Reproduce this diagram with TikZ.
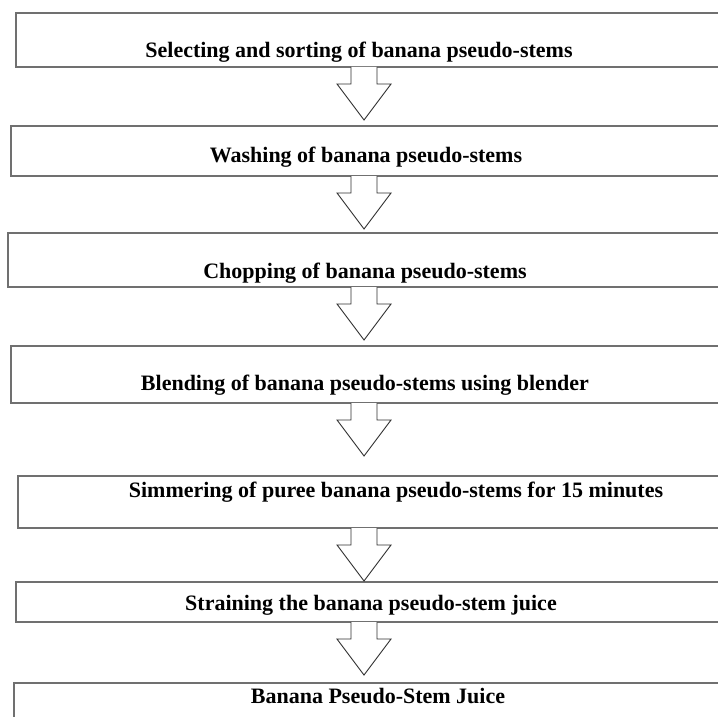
\documentclass[tikz,border=0pt]{standalone}
\usepackage{fontspec}
\setmainfont{Liberation Serif}
\usetikzlibrary{calc}
\definecolor{boxgray}{HTML}{707070}
\definecolor{arrowgray}{HTML}{303030}
\begin{document}
\begin{tikzpicture}[x=1pt,y=-1pt,
  stepbox/.style={draw=boxgray,line width=1.4pt,fill=white},
  steptext/.style={font=\fontsize{22}{25}\selectfont\bfseries,anchor=base,inner sep=0pt},
  blockarrow/.style={draw=arrowgray,line width=0.9pt,fill=white,line join=miter}]
\useasboundingbox (0,0) rectangle (718,717);
\clip (0,0) rectangle (718,717);
% boxes
\draw[stepbox] (16,13) rectangle (730,67);
\draw[stepbox] (11,126) rectangle (730,176);
\draw[stepbox] (8,233) rectangle (730,287);
\draw[stepbox] (11,346) rectangle (730,403);
\draw[stepbox] (18,476) rectangle (730,528);
\draw[stepbox] (16,582) rectangle (730,622);
\draw[stepbox] (14,683) rectangle (730,740);
\coordinate (b1) at (364,67);
\coordinate (b2) at (364,176);
\coordinate (b3) at (364,287);
\coordinate (b4) at (364,403);
\coordinate (b5) at (364,528);
\coordinate (b6) at (364,622);
% texts
\node[steptext] (t1) at (359,58) {Selecting and sorting of banana pseudo-stems};
\node[steptext] (t2) at (366,162) {Washing of banana pseudo-stems};
\node[steptext] (t3) at (365,278) {Chopping of banana pseudo-stems};
\node[steptext] (t4) at (365,390) {Blending of banana pseudo-stems using blender};
\node[steptext] (t5) at (396,497) {Simmering of puree banana pseudo-stems for 15 minutes};
\node[steptext] (t6) at (371,610) {Straining the banana pseudo-stem juice};
\node[steptext] (t7) at (378,703) {Banana Pseudo-Stem Juice};
% arrows
\foreach \b in {b1,b2,b3,b4,b5,b6}{
  \draw[blockarrow] ($(\b)+(-13,0)$) -- ++(0,17) -- ++(-14,0) -- ($(\b)+(0,53)$)
    -- ($(\b)+(27,17)$) -- ++(-14,0) -- ($(\b)+(13,0)$);
}
\end{tikzpicture}
\end{document}
